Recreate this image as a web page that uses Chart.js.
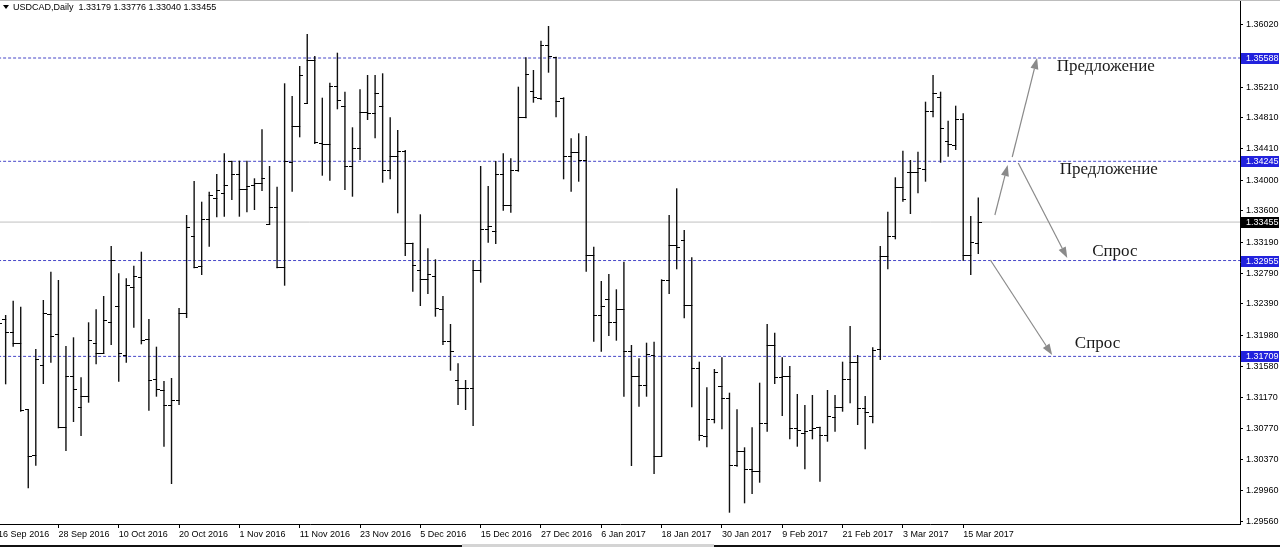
<!DOCTYPE html>
<html>
<head>
<meta charset="utf-8">
<title>USDCAD, Daily</title>
<script src="https://cdn.jsdelivr.net/npm/chart.js@4.4.0/dist/chart.umd.min.js"></script>
<style>
html, body { margin: 0; padding: 0; background: #fff; }
#wrap { position: relative; width: 1280px; height: 547px; }
</style>
</head>
<body>
<div id="wrap"><canvas id="chart"></canvas></div>
<script>
// daily bars, index 0 = 16 Sep 2016 ... index 130 = 17 Mar 2017
var symbol = 'USDCAD,Daily';
var tickIndex = [0, 8, 16, 24, 32, 40, 48, 56, 64, 72, 80, 88, 96, 104, 112, 120, 128];
var tickLabels = ['16 Sep 2016', '28 Sep 2016', '10 Oct 2016', '20 Oct 2016', '1 Nov 2016', '11 Nov 2016',
  '23 Nov 2016', '5 Dec 2016', '15 Dec 2016', '27 Dec 2016', '6 Jan 2017', '18 Jan 2017', '30 Jan 2017',
  '9 Feb 2017', '21 Feb 2017', '3 Mar 2017', '15 Mar 2017'];

var opens = [1.31987, 1.32191, 1.32022, 1.31879, 1.31015, 1.30427, 1.31588, 1.32256, 1.32000, 1.30787,
  1.31445, 1.31047, 1.31194, 1.31879, 1.31749, 1.32147, 1.32355, 1.31727, 1.32602, 1.32737,
  1.31931, 1.31411, 1.31272, 1.31077, 1.31142, 1.32269, 1.33274, 1.32875, 1.33491, 1.33764,
  1.33829, 1.34240, 1.34080, 1.33885, 1.33937, 1.33959, 1.33430, 1.33642, 1.32862, 1.34227,
  1.34695, 1.34999, 1.35562, 1.34479, 1.34470, 1.35215, 1.34964, 1.34184, 1.34414, 1.34877,
  1.34869, 1.34964, 1.34123, 1.34314, 1.34370, 1.33179, 1.32823, 1.32715, 1.32754, 1.32321,
  1.31900, 1.31402, 1.31294, 1.31294, 1.32823, 1.33361, 1.33339, 1.34080, 1.33668, 1.34123,
  1.34817, 1.35150, 1.35064, 1.35748, 1.35597, 1.35064, 1.34305, 1.34362, 1.34262, 1.33018,
  1.32247, 1.32455, 1.32152, 1.32321, 1.31779, 1.31445, 1.31337, 1.31727, 1.30414, 1.32702,
  1.33157, 1.33213, 1.32377, 1.31554, 1.30674, 1.30891, 1.31324, 1.31164, 1.30297, 1.30470,
  1.30245, 1.30210, 1.30839, 1.31857, 1.31437, 1.31445, 1.30774, 1.30709, 1.30752, 1.30787,
  1.30687, 1.30917, 1.31047, 1.31411, 1.31632, 1.31034, 1.30934, 1.31801, 1.33005, 1.33265,
  1.33902, 1.34097, 1.34097, 1.34145, 1.34890, 1.35077, 1.34500, 1.34457, 1.34791, 1.33027,
  1.33179];
var highs = [1.32442, 1.32247, 1.32433, 1.32355, 1.31021, 1.31805, 1.32442, 1.32810, 1.32702, 1.31844,
  1.31957, 1.31437, 1.32152, 1.32321, 1.32494, 1.33144, 1.32789, 1.32724, 1.32888, 1.33070,
  1.32195, 1.31835, 1.31389, 1.31428, 1.32338, 1.33547, 1.33989, 1.33720, 1.33850, 1.34080,
  1.34349, 1.34253, 1.34253, 1.34253, 1.34024, 1.34661, 1.34184, 1.33915, 1.35259, 1.35094,
  1.35484, 1.35900, 1.35614, 1.35072, 1.35267, 1.35657, 1.35150, 1.34687, 1.35181, 1.35367,
  1.35367, 1.35389, 1.34817, 1.34652, 1.34392, 1.33187, 1.33556, 1.33114, 1.32971, 1.32494,
  1.32130, 1.31619, 1.31402, 1.32962, 1.34184, 1.33924, 1.34249, 1.34349, 1.34284, 1.35215,
  1.35597, 1.35432, 1.35813, 1.36004, 1.35605, 1.35077, 1.34544, 1.34609, 1.34574, 1.33135,
  1.32689, 1.32780, 1.32581, 1.32940, 1.31857, 1.31684, 1.31887, 1.31900, 1.32711, 1.33547,
  1.33894, 1.33352, 1.32997, 1.31640, 1.31307, 1.31545, 1.31697, 1.31237, 1.31021, 1.30527,
  1.30787, 1.31367, 1.32130, 1.32017, 1.31697, 1.31584, 1.31220, 1.31077, 1.31207, 1.30795,
  1.31272, 1.31207, 1.31640, 1.32104, 1.31727, 1.31194, 1.31827, 1.33144, 1.33590, 1.34037,
  1.34383, 1.34262, 1.34370, 1.35020, 1.35367, 1.35150, 1.34773, 1.34968, 1.34869, 1.33534,
  1.33776];
var lows = [1.31922, 1.31346, 1.31835, 1.30990, 1.29994, 1.30288, 1.31350, 1.31627, 1.30774, 1.30479,
  1.30856, 1.30674, 1.31107, 1.31606, 1.31740, 1.31857, 1.31380, 1.31627, 1.32082, 1.31866,
  1.31003, 1.31185, 1.30535, 1.30050, 1.31077, 1.32208, 1.32854, 1.32767, 1.33135, 1.33517,
  1.33525, 1.33742, 1.33525, 1.33582, 1.33612, 1.33859, 1.33417, 1.32854, 1.32628, 1.33850,
  1.34557, 1.34990, 1.34470, 1.34058, 1.33993, 1.34921, 1.33872, 1.33785, 1.34262, 1.34782,
  1.34544, 1.33967, 1.34011, 1.33569, 1.33014, 1.32550, 1.32364, 1.32520, 1.32225, 1.31857,
  1.31523, 1.31077, 1.31012, 1.30804, 1.32667, 1.33187, 1.33170, 1.33603, 1.33577, 1.34110,
  1.34804, 1.35007, 1.35042, 1.35397, 1.34817, 1.34011, 1.33850, 1.33980, 1.32810, 1.31900,
  1.31770, 1.31974, 1.31913, 1.31185, 1.30284, 1.31055, 1.31185, 1.30180, 1.30405, 1.32520,
  1.32841, 1.32204, 1.31047, 1.30613, 1.30527, 1.30839, 1.30761, 1.29677, 1.30275, 1.29799,
  1.29920, 1.30067, 1.30730, 1.31350, 1.30934, 1.30631, 1.30535, 1.30241, 1.30631, 1.30080,
  1.30600, 1.30730, 1.30990, 1.31099, 1.30817, 1.30501, 1.30839, 1.31662, 1.32841, 1.33231,
  1.33720, 1.33560, 1.33829, 1.33980, 1.34817, 1.34227, 1.34305, 1.34392, 1.32953, 1.32767,
  1.33040];
var closes = [1.32143, 1.32022, 1.31879, 1.31000, 1.30405, 1.31671, 1.32269, 1.31965, 1.30782, 1.31454,
  1.31281, 1.31194, 1.31913, 1.31749, 1.32173, 1.32953, 1.31749, 1.32637, 1.32745, 1.31922,
  1.31402, 1.31281, 1.31073, 1.31142, 1.32273, 1.33387, 1.32862, 1.33491, 1.33807, 1.33872,
  1.33937, 1.34080, 1.33885, 1.33924, 1.33959, 1.34024, 1.33642, 1.32862, 1.34240, 1.34695,
  1.35367, 1.35562, 1.34487, 1.34470, 1.35215, 1.35042, 1.34175, 1.34414, 1.34882, 1.34869,
  1.35129, 1.34123, 1.34314, 1.34370, 1.33179, 1.32888, 1.32715, 1.32780, 1.32334, 1.31900,
  1.31779, 1.31294, 1.31294, 1.32823, 1.33361, 1.33395, 1.34080, 1.33668, 1.34123, 1.34817,
  1.35380, 1.35072, 1.35748, 1.35605, 1.35029, 1.34305, 1.34362, 1.34262, 1.33018, 1.32247,
  1.32364, 1.32152, 1.32321, 1.31779, 1.31445, 1.31337, 1.31736, 1.30414, 1.32702, 1.33157,
  1.33127, 1.32377, 1.31554, 1.30687, 1.30891, 1.31497, 1.31164, 1.30297, 1.30470, 1.30245,
  1.30210, 1.30839, 1.31857, 1.31437, 1.31445, 1.30774, 1.30752, 1.30730, 1.30774, 1.30687,
  1.30925, 1.31047, 1.31411, 1.31632, 1.31034, 1.30977, 1.31792, 1.33005, 1.33265, 1.33902,
  1.33751, 1.34097, 1.34154, 1.34890, 1.35129, 1.34674, 1.34470, 1.34791, 1.33027, 1.33187,
  1.33455];

var yTicks = [1.36020, 1.35210, 1.34810, 1.34410, 1.34000, 1.33600, 1.33190, 1.32790,
  1.32390, 1.31980, 1.31580, 1.31170, 1.30770, 1.30370, 1.29960, 1.29560];

// horizontal levels (dotted blue) and the drawn notes
var levels = [1.35588, 1.34245, 1.32955, 1.31709];
var noteText = ['Предложение', 'Предложение', 'Спрос', 'Спрос'];
var noteX = [140.4, 140.8, 145.1, 142.8];
var noteY = [1.35471, 1.34132, 1.33066, 1.31870];
// arrows: [from bar, from price, to bar, to price]
var arrows = [
  [132.2, 1.33547, 133.9, 1.34197],
  [134.5, 1.34301, 137.8, 1.35588],
  [135.3, 1.34223, 141.8, 1.32988],
  [131.6, 1.32962, 139.8, 1.31727]
];

var last = closes.length - 1;
var lastPrice = closes[last];

function tickImage(side) {
  var c = document.createElement('canvas');
  c.width = 7; c.height = 1;
  var g = c.getContext('2d');
  g.fillStyle = '#000';
  if (side === 'left') g.fillRect(0, 0, 4, 1); else g.fillRect(3, 0, 4, 1);
  return c;
}

var datasets = [];
levels.forEach(function (v) {
  datasets.push({
    type: 'line',
    data: [{ x: 0, y: v }, { x: 170, y: v }],
    borderColor: 'rgb(70,70,200)',
    borderWidth: 1,
    borderDash: [3, 2],
    pointRadius: 0,
    order: 5
  });
});
datasets.push({
  type: 'line',
  data: [{ x: 0, y: lastPrice }, { x: 170, y: lastPrice }],
  borderColor: '#c0c0c0',
  borderWidth: 1,
  pointRadius: 0,
  order: 5
});
datasets.push({
  type: 'bar',
  data: highs.map(function (h, i) { return { x: i, y: [lows[i], h] }; }),
  backgroundColor: '#111',
  borderWidth: 0,
  barThickness: 1.4,
  inflateAmount: 0,
  order: 2
});
datasets.push({
  type: 'scatter',
  data: opens.map(function (o, i) { return { x: i, y: o }; }),
  pointStyle: tickImage('left'),
  pointRadius: 2,
  order: 1
});
datasets.push({
  type: 'scatter',
  data: closes.map(function (c, i) { return { x: i, y: c }; }),
  pointStyle: tickImage('right'),
  pointRadius: 2,
  order: 1
});

var overlay = {
  id: 'overlay',
  afterDatasetsDraw: function (chart) {
    var ctx = chart.ctx, xs = chart.scales.x, ys = chart.scales.y;
    ctx.save();
    ctx.strokeStyle = '#8a8a8a';
    ctx.fillStyle = '#8a8a8a';
    ctx.lineWidth = 1.2;
    arrows.forEach(function (a) {
      var x1 = xs.getPixelForValue(a[0]), y1 = ys.getPixelForValue(a[1]);
      var x2 = xs.getPixelForValue(a[2]), y2 = ys.getPixelForValue(a[3]);
      var ang = Math.atan2(y2 - y1, x2 - x1);
      var len = 11, w = 4;
      var bx = x2 - len * Math.cos(ang), by = y2 - len * Math.sin(ang);
      ctx.beginPath();
      ctx.moveTo(x1, y1);
      ctx.lineTo(bx, by);
      ctx.stroke();
      ctx.beginPath();
      ctx.moveTo(x2, y2);
      ctx.lineTo(bx + w * Math.sin(ang), by - w * Math.cos(ang));
      ctx.lineTo(bx - w * Math.sin(ang), by + w * Math.cos(ang));
      ctx.closePath();
      ctx.fill();
    });
    ctx.fillStyle = '#1a1a1a';
    ctx.font = '17px "Liberation Serif"';
    ctx.textBaseline = 'middle';
    ctx.textAlign = 'left';
    noteText.forEach(function (t, i) {
      ctx.fillText(t, xs.getPixelForValue(noteX[i]), ys.getPixelForValue(noteY[i]));
    });
    ctx.restore();
  },
  afterDraw: function (chart) {
    var ctx = chart.ctx, ys = chart.scales.y, area = chart.chartArea;
    ctx.save();
    ctx.font = '9px "Liberation Sans"';
    ctx.textBaseline = 'middle';
    ctx.textAlign = 'left';
    function box(v, bg) {
      var y = Math.round(ys.getPixelForValue(v));
      ctx.fillStyle = bg;
      ctx.fillRect(area.right + 1, y - 5, chart.width - area.right - 2, 11);
      ctx.fillStyle = '#fff';
      ctx.fillText(v.toFixed(5), area.right + 6, y + 1);
    }
    levels.forEach(function (v) { box(v, '#2222dd'); });
    box(lastPrice, '#000');

    // header
    ctx.fillStyle = '#000';
    ctx.beginPath();
    ctx.moveTo(3, 5); ctx.lineTo(9, 5); ctx.lineTo(6, 9); ctx.closePath();
    ctx.fill();
    ctx.fillText(symbol + '  ' + [opens[last], highs[last], lows[last], closes[last]]
      .map(function (v) { return v.toFixed(5); }).join(' '), 13, 8);

    // window frame: thin top line, bottom edge with scroll strip
    ctx.fillStyle = '#bdbdbd';
    ctx.fillRect(0, 0, chart.width, 1);
    ctx.fillStyle = '#111';
    ctx.fillRect(0, 545, chart.width, 2);
    ctx.fillStyle = '#d4d4d4';
    ctx.fillRect(462, 544, 252, 3);
    ctx.restore();
  }
};

new Chart(document.getElementById('chart'), {
  type: 'bar',
  data: { datasets: datasets },
  options: {
    responsive: true,
    maintainAspectRatio: false,
    animation: false,
    events: [],
    layout: { padding: 0, autoPadding: false },
    plugins: { legend: { display: false }, tooltip: { enabled: false } },
    scales: {
      x: {
        type: 'linear',
        position: 'bottom',
        min: 0.252,
        max: 164.71,
        offset: false,
        grid: { display: true, drawOnChartArea: false, drawTicks: true, tickLength: 4, color: '#000', offset: false },
        border: { display: true, color: '#000' },
        ticks: {
          autoSkip: false, maxRotation: 0, minRotation: 0, align: 'start', padding: 1,
          color: '#000', font: { family: 'Liberation Sans', size: 9 },
          callback: function (value) {
            var k = tickIndex.indexOf(value);
            return k >= 0 ? tickLabels[k] : '';
          }
        },
        afterBuildTicks: function (s) { s.ticks = tickIndex.map(function (v) { return { value: v }; }); },
        afterFit: function (s) { s.height = 23; s.paddingLeft = 0; s.paddingRight = 0; }
      },
      y: {
        type: 'linear',
        position: 'right',
        min: 1.29530,
        max: 1.36342,
        grid: { display: true, drawOnChartArea: false, drawTicks: true, tickLength: 3, color: '#000' },
        border: { display: true, color: '#000' },
        ticks: {
          padding: 3, color: '#000', font: { family: 'Liberation Sans', size: 9 },
          callback: function (value) { return Number(value).toFixed(5); }
        },
        afterBuildTicks: function (s) { s.ticks = yTicks.map(function (v) { return { value: v }; }); },
        afterFit: function (s) { s.width = 40; s.paddingTop = 0; s.paddingBottom = 0; }
      }
    }
  },
  plugins: [overlay]
});
</script>
</body>
</html>
